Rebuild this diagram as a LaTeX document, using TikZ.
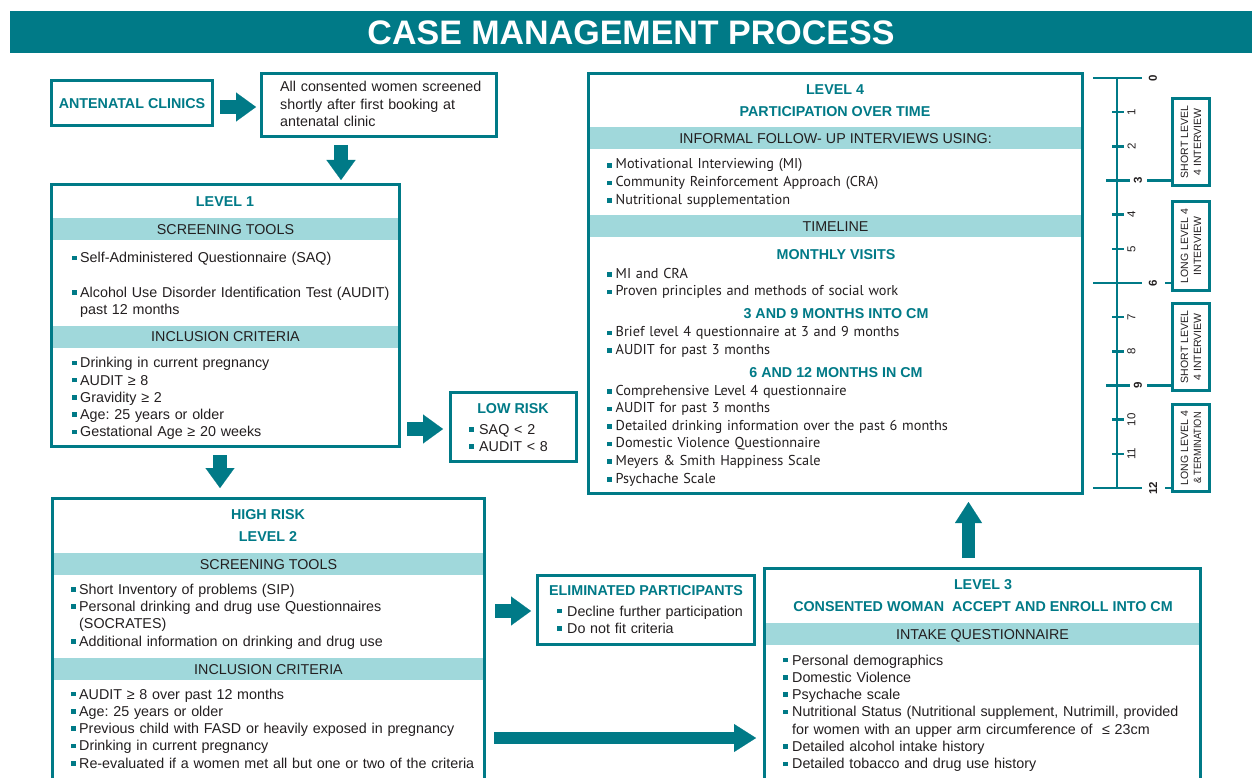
\documentclass[tikz,border=0pt]{standalone}
\usepackage{fontspec}
\setmainfont{Liberation Sans}
\newfontfamily\myr{PT Sans}
\usetikzlibrary{arrows.meta}
\definecolor{tl}{RGB}{0,122,135}
\definecolor{lb}{RGB}{160,216,219}
\definecolor{tx}{RGB}{35,31,32}
\newlength\bw
\setlength\bw{8pt}
\newcommand\braise{2.7pt}
\newcommand\bj{\hangindent=\bw\hangafter=1\noindent\makebox[\bw][l]{\textcolor{tl}{\rule[\braise]{4.5pt}{4.5pt}}}\ignorespaces}
\newcommand\bi{\par\bj}
\setlength\parskip{0pt}
\frenchspacing
\tikzset{
  box/.style={draw=tl, line width=2.6pt, inner sep=0pt, outer sep=0pt, anchor=north west},
  band/.style={fill=lb, inner sep=0pt, outer sep=0pt, anchor=north west, font=\fontsize{14.3}{17}\selectfont, text height=10.3pt, text depth=0pt},
  hd/.style={font=\fontsize{14.3}{17}\selectfont\bfseries, text=tl, inner sep=0pt, text height=10.3pt, text depth=0pt},
  lst/.style={font=\fontsize{14.3}{17.3}\selectfont\frenchspacing, inner sep=0pt, anchor=base west, text width=440pt, align=left},
  lfour/.style={lst, font=\myr\fontsize{14.3}{17.6}\selectfont\frenchspacing},
  barrow/.style={draw=tl, line width=14pt, -{Triangle[length=20pt,width=29pt,line width=0.1pt]}},
  tline/.style={draw=tl, line width=2.6pt},
  tbox/.style={draw=tl, line width=2.6pt, inner sep=0pt, outer sep=0pt, align=center, font=\fontsize{10.5}{13}\selectfont, rotate=90},
  tnum/.style={font=\fontsize{11.5}{12}\selectfont, rotate=90, inner sep=0pt},
  tnumb/.style={font=\fontsize{11.5}{12}\selectfont\bfseries, rotate=90, inner sep=0pt}
}
\begin{document}
\begin{tikzpicture}[x=1pt, y=-1pt, text=tx]
\useasboundingbox (0,0) rectangle (1252,778);
\clip (0,0) rectangle (1252,778);
\fill[white] (0,0) rectangle (1252,778);

% title
\node[fill=tl, inner sep=0pt, outer sep=0pt, anchor=north west, minimum width=1242pt, minimum height=42pt, text=white, font=\fontsize{34}{34}\selectfont\bfseries, text height=24.3pt, text depth=0pt] (title) at (10,11) {CASE MANAGEMENT PROCESS};

% bands
\node[band, minimum width=347pt, minimum height=22pt] (l1b1) at (52,218) {SCREENING TOOLS};
\node[band, minimum width=347pt, minimum height=22pt] (l1b2) at (52,325.5) {INCLUSION CRITERIA};
\node[band, minimum width=431pt, minimum height=22pt] (l2b1) at (53,553) {SCREENING TOOLS};
\node[band, minimum width=431pt, minimum height=22pt] (l2b2) at (53,658) {INCLUSION CRITERIA};
\node[band, minimum width=435pt, minimum height=22pt] (l3b1) at (765,623) {INTAKE QUESTIONNAIRE};
\node[band, minimum width=493pt, minimum height=22pt] (l4b1) at (589,127.5) {INFORMAL FOLLOW- UP INTERVIEWS USING:};
\node[band, minimum width=493pt, minimum height=22pt] (l4b2) at (589,215) {TIMELINE};

% boxes
\node[box, minimum width=161pt, minimum height=45pt, font=\fontsize{14.3}{17}\selectfont\bfseries, text=tl, text height=10.3pt, text depth=0pt] (ant) at (51.5,80.5) {ANTENATAL CLINICS};
\node[box, minimum width=235pt, minimum height=63pt] (scr) at (261.5,73.5) {};
\node[box, minimum width=348pt, minimum height=262pt] (l1) at (51.5,184.5) {};
\node[box, minimum width=126pt, minimum height=69pt] (low) at (450.5,392.5) {};
\node[box, minimum width=432pt, minimum height=300pt] (l2) at (52.5,498.5) {};
\node[box, minimum width=217pt, minimum height=69pt] (elim) at (537.5,575.5) {};
\node[box, minimum width=436pt, minimum height=250pt] (l3) at (764.5,568.5) {};
\node[box, minimum width=494pt, minimum height=420pt] (l4) at (588.5,73.5) {};

% headings
\node[hd] (h1) at (225,201) {LEVEL 1};
\node[hd] (h2a) at (268,514) {HIGH RISK};
\node[hd] (h2b) at (268,536) {LEVEL 2};
\node[hd] (hlow) at (513,408) {LOW RISK};
\node[hd] (helim) at (646,590.7) {ELIMINATED PARTICIPANTS};
\node[hd] (h3a) at (983,584) {LEVEL 3};
\node[hd] (h3b) at (983,606) {CONSENTED WOMAN \ ACCEPT AND ENROLL INTO CM};
\node[hd] (h4a) at (835,89.3) {LEVEL 4};
\node[hd] (h4b) at (835,111) {PARTICIPATION OVER TIME};
\node[hd] (h4c) at (836,254) {MONTHLY VISITS};
\node[hd] (h4d) at (836,313.3) {3 AND 9 MONTHS INTO CM};
\node[hd] (h4e) at (836,372.3) {6 AND 12 MONTHS IN CM};

% texts
\node[lst, font=\fontsize{14.3}{17.5}\selectfont] (scrt) at (280,91.7) {All consented women screened\newline shortly after first booking at\newline antenatal clinic};
\node[lst] (l1t1) at (72,262.7) {\bj Self-Administered Questionnaire (SAQ)\par\noindent\mbox{}\bi Alcohol Use Disorder Identification Test (AUDIT)\newline past 12 months\par};
\node[lst] (l1t2) at (72,367.7) {\bj Drinking in current pregnancy\bi AUDIT ≥ 8\bi Gravidity ≥ 2\bi Age: 25 years or older\bi Gestational Age ≥ 20 weeks\par};
\node[lst] (l2t1) at (71,594.3) {\bj Short Inventory of problems (SIP)\bi Personal drinking and drug use Questionnaires\newline (SOCRATES)\bi Additional information on drinking and drug use\par};
\node[lst] (l2t2) at (71,699) {\bj AUDIT ≥ 8 over past 12 months\bi Age: 25 years or older\bi Previous child with FASD or heavily exposed in pregnancy\bi Drinking in current pregnancy\bi Re-evaluated if a women met all but one or two of the criteria\par};
\node[lst] (lowt) at (469,434.3) {\setlength\bw{10pt}\bj SAQ < 2\bi AUDIT < 8\par};
\node[lst] (elimt) at (557,616) {\setlength\bw{10pt}\bj Decline further participation\bi Do not fit criteria\par};
\node[lst] (l3t) at (783,665) {\setlength\bw{9pt}\bj Personal demographics\bi Domestic Violence\bi Psychache scale\bi Nutritional Status (Nutritional supplement, Nutrimill, provided\newline for women with an upper arm circumference of \ ≤ 23cm\bi Detailed alcohol intake history\bi Detailed tobacco and drug use history\par};
\node[lfour] (l4t1) at (607,169) {\setlength\bw{8.5pt}\renewcommand\braise{1.5pt}\bj Motivational Interviewing (MI)\bi Community Reinforcement Approach (CRA)\bi Nutritional supplementation\par};
\node[lfour] (l4t2) at (607,278.3) {\setlength\bw{8.5pt}\renewcommand\braise{1.5pt}\bj MI and CRA\bi Proven principles and methods of social work\par};
\node[lfour] (l4t3) at (607,336.7) {\setlength\bw{8.5pt}\renewcommand\braise{1.5pt}\bj Brief level 4 questionnaire at 3 and 9 months\bi AUDIT for past 3 months\par};
\node[lfour] (l4t4) at (607,395) {\setlength\bw{8.5pt}\renewcommand\braise{1.5pt}\bj Comprehensive Level 4 questionnaire\bi AUDIT for past 3 months\bi Detailed drinking information over the past 6 months\bi Domestic Violence Questionnaire\bi Meyers \& Smith Happiness Scale\bi Psychache Scale\par};

% block arrows
\coordinate (a1s) at ([xshift=7.5pt,yshift=-4pt]ant.east);
\coordinate (a1e) at (a1s -| scr.west);
\draw[barrow] (a1s) -- ([xshift=-5.5pt]a1e);
\coordinate (a2s) at ([xshift=-38pt,yshift=-8.5pt]scr.south);
\coordinate (a2e) at (a2s |- l1.north);
\draw[barrow] (a2s) -- ([yshift=4.5pt]a2e);
\coordinate (a3s) at ([xshift=-5.5pt,yshift=-8.5pt]l1.south);
\coordinate (a3e) at (a3s |- l2.north);
\draw[barrow] (a3s) -- ([yshift=10.5pt]a3e);
\coordinate (a4s) at ([xshift=7.5pt,yshift=17.5pt]l1.south east);
\coordinate (a4e) at (a4s -| low.west);
\draw[barrow] (a4s) -- ([xshift=-7.5pt]a4e);
\coordinate (a5s) at ([xshift=10.5pt,yshift=-112.5pt]l2.north east);
\coordinate (a5e) at (a5s -| elim.west);
\draw[barrow] (a5s) -- ([xshift=-6.5pt]a5e);
\coordinate (a6s) at ([xshift=9.5pt,yshift=-239.5pt]l2.north east);
\coordinate (a6e) at (a6s -| l3.west);
\draw[barrow, line width=12pt, -{Triangle[length=22pt,width=28pt,line width=0.1pt]}] (a6s) -- ([xshift=-8.5pt]a6e);
\coordinate (a7s) at ([xshift=-14pt,yshift=10.5pt]l3.north);
\coordinate (a7e) at (a7s |- l4.south);
\draw[barrow, line width=13pt, -{Triangle[length=21pt,width=27pt,line width=0.1pt]}] (a7s) -- ([yshift=-8.5pt]a7e);

% timeline
\foreach \m in {0,...,12} \coordinate (m\m) at (1117,{78+34.17*\m});
\draw[tline] (m0) -- (m12);
\foreach \m in {0,6,12} {\draw[tline] ([xshift=-24pt]m\m) -- ([xshift=25pt]m\m);
  \node[tnumb] (n\m) at ([xshift=36pt]m\m) {\m};}
\foreach \m in {3,9} {\draw[tline] ([xshift=-11pt]m\m) -- ([xshift=13pt]m\m);
  \node[tnumb] (n\m) at ([xshift=21pt]m\m) {\m};}
\foreach \m in {1,2,4,5,7,8,10,11} {\draw[tline] ([xshift=-5pt]m\m) -- ([xshift=7pt]m\m);
  \node[tnum] (n\m) at ([xshift=14.5pt]m\m) {\m};}
\node[tbox, minimum width=87pt, minimum height=37pt] (sb1) at (1191,142) {SHORT LEVEL\\4 INTERVIEW};
\node[tbox, minimum width=89pt, minimum height=37pt] (lb1) at (1191,246) {LONG LEVEL 4\\INTERVIEW};
\node[tbox, minimum width=87pt, minimum height=37pt] (sb2) at (1191,347) {SHORT LEVEL\\4 INTERVIEW};
\node[tbox, minimum width=87pt, minimum height=37pt] (lb2) at (1191,448) {LONG LEVEL 4\\\scalebox{0.88}[1]{\& TERMINATION}};
\draw[tline] ([xshift=30pt]m3) -- (m3 -| sb1.north);
\draw[tline] ([xshift=48pt]m6) -- (m6 -| lb1.north);
\draw[tline] ([xshift=30pt]m9) -- (m9 -| sb2.north);
\draw[tline] ([xshift=48pt]m12) -- (m12 -| lb2.north);
\end{tikzpicture}
\end{document}
